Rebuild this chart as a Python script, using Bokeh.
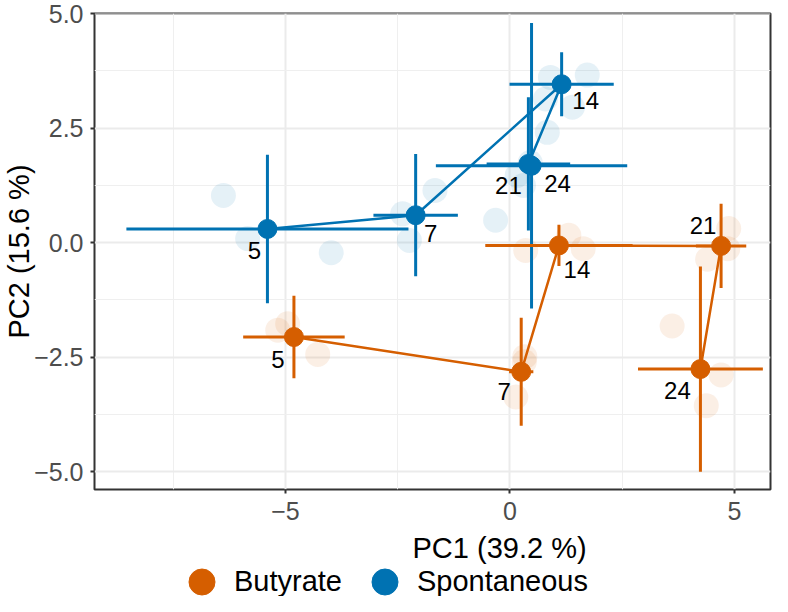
import numpy as np
from bokeh.plotting import figure
from bokeh.layouts import column
from bokeh.models import (ColumnDataSource, FixedTicker, Legend, LegendItem, Range1d, Title)
from bokeh.core.properties import value
from bokeh.embed import file_html
from bokeh.resources import INLINE

# ---------------- data ----------------
days = [5, 7, 14, 21, 24]
day_labels = ["5", "7", "14", "21", "24"]

# group means (PC1, PC2) and spread
but_pc1 = [-4.81, 0.25, 1.09, 4.70, 4.24]
but_pc2 = [-2.06, -2.82, -0.06, -0.07, -2.76]
but_sd1 = [1.13, 0.27, 1.64, 0.56, 1.39]
but_sd2 = [0.90, 1.18, 0.45, 0.92, 2.24]

spo_pc1 = [-5.40, -2.10, 1.15, 0.41, 0.48]
spo_pc2 = [0.30, 0.60, 3.46, 1.72, 1.68]
spo_sd1 = [3.14, 0.94, 1.16, 0.93, 2.13]
spo_sd2 = [1.62, 1.335, 0.70, 1.455, 3.12]

# replicate samples
but_rep_day = [5, 5, 5, 7, 7, 7, 14, 14, 14, 21, 21, 21, 24, 24, 24]
but_rep_pc1 = [-4.95, -5.17, -4.28, 0.33, 0.13, 0.32, 0.35, 1.31, 1.63,
               4.87, 4.40, 4.85, 3.61, 4.70, 4.37]
but_rep_pc2 = [-1.77, -1.91, -2.44, -2.49, -3.37, -2.60, -0.17, 0.16, -0.13,
               0.31, -0.36, -0.13, -1.82, -2.89, -3.56]

spo_rep_day = [5, 5, 5, 7, 7, 7, 14, 14, 14, 21, 21, 21, 24, 24, 24]
spo_rep_pc1 = [-6.38, -5.84, -3.98, -2.39, -1.67, -2.24, 0.90, 1.72, 0.79,
               0.16, 0.30, 0.83, 1.39, -0.32, 0.45]
spo_rep_pc2 = [1.03, 0.09, -0.22, 0.63, 1.14, 0.05, 3.61, 3.66, 3.14,
               1.47, 1.25, 2.41, 2.96, 0.49, 1.75]

x_ticks = [-5, 0, 5]
x_tick_labels = ["\u22125", "0", "5"]
x_minor = [-7.5, -2.5, 2.5]
y_ticks = [-5.0, -2.5, 0.0, 2.5, 5.0]
y_tick_labels = ["\u22125.0", "\u22122.5", "0.0", "2.5", "5.0"]
y_minor = [-3.75, -1.25, 1.25, 3.75]

x_title = "PC1 (39.2 %)"
y_title = "PC2 (15.6 %)"
conditions = ["Butyrate", "Spontaneous"]

# label nudges (screen px) for the day labels
but_lab_dx = [-16, -17, 18, -18, -23]
but_lab_dy = [22, 20, 24, -20, 21]
spo_lab_dx = [-13, 15, 24, -20, 26]
spo_lab_dy = [22, 18, 16, 22, 18]

ORANGE = "#D55E00"
BLUE = "#0072B2"
FONT = "Liberation Sans"

p = figure(width=772, height=529, output_backend="svg", toolbar_location=None,
           x_range=Range1d(-9.25, 5.80), y_range=Range1d(-5.39, 5.005),
           min_border_left=93, min_border_right=2, min_border_top=13,
           min_border_bottom=40, background_fill_color="white",
           border_fill_color="white")

p.outline_line_color = "#333333"
p.outline_line_width = 2

p.xaxis.ticker = FixedTicker(ticks=x_ticks, minor_ticks=x_minor)
p.yaxis.ticker = FixedTicker(ticks=y_ticks, minor_ticks=y_minor)
p.xaxis.major_label_overrides = {float(t): l for t, l in zip(x_ticks, x_tick_labels)}
p.yaxis.major_label_overrides = {float(t): l for t, l in zip(y_ticks, y_tick_labels)}

for ax in (p.xaxis, p.yaxis):
    ax.axis_line_color = None
    ax.major_tick_line_color = "#333333"
    ax.major_tick_line_width = 2
    ax.major_tick_out = 4
    ax.major_tick_in = 0
    ax.minor_tick_line_color = None
    ax.major_label_text_font = FONT
    ax.major_label_text_font_size = "25px"
    ax.major_label_text_color = "#4D4D4D"
    ax.axis_label_text_font = FONT
    ax.axis_label_text_font_size = "29px"
    ax.axis_label_text_font_style = "normal"
    ax.axis_label_text_color = "black"

p.xaxis.major_label_standoff = 8
p.yaxis.major_label_standoff = 7
p.yaxis.axis_label_standoff = -4
p.yaxis.axis_label = y_title

for g in (p.xgrid, p.ygrid):
    g.grid_line_color = "#EBEBEB"
    g.grid_line_width = 2
    g.minor_grid_line_color = "#EFEFEF"
    g.minor_grid_line_width = 1

# replicate points
for rx, ry, col in ((but_rep_pc1, but_rep_pc2, ORANGE), (spo_rep_pc1, spo_rep_pc2, BLUE)):
    p.scatter(rx, ry, size=25, fill_color=col, line_color=None, fill_alpha=0.1)

# error bars
for mx, my, s1, s2, col in ((spo_pc1, spo_pc2, spo_sd1, spo_sd2, BLUE),
                            (but_pc1, but_pc2, but_sd1, but_sd2, ORANGE)):
    mx, my, s1, s2 = map(np.asarray, (mx, my, s1, s2))
    p.segment(x0=mx - s1, y0=my, x1=mx + s1, y1=my, line_color=col, line_width=3)
    p.segment(x0=mx, y0=my - s2, x1=mx, y1=my + s2, line_color=col, line_width=3)

# paths across days
for mx, my, col in ((spo_pc1, spo_pc2, BLUE), (but_pc1, but_pc2, ORANGE)):
    p.line(mx, my, line_color=col, line_width=2.5)

# mean points
p.scatter(but_pc1, but_pc2, size=19, fill_color=ORANGE, line_color=ORANGE)
p.scatter(spo_pc1, spo_pc2, size=19, fill_color=BLUE, line_color=BLUE)

# day labels
for mx, my, dx, dy in ((but_pc1, but_pc2, but_lab_dx, but_lab_dy),
                       (spo_pc1, spo_pc2, spo_lab_dx, spo_lab_dy)):
    src = ColumnDataSource(dict(x=mx, y=my, t=day_labels, dx=dx, dy=dy))
    p.text(x="x", y="y", text="t", x_offset="dx", y_offset="dy", source=src,
           text_align="center", text_baseline="middle",
           text_font=value(FONT), text_font_size="24px", text_color="black")

# ---------------- x title + legend strip below the panel ----------------
leg = figure(width=772, height=67, output_backend="svg", toolbar_location=None,
             x_range=Range1d(0, 1), y_range=Range1d(0, 1),
             x_axis_location=None, y_axis_location=None,
             min_border=0, background_fill_color="white", border_fill_color="white")
leg.grid.visible = False
leg.outline_line_color = None
leg.title = Title(text=x_title, align="left", offset=318, standoff=0,
                  text_font=FONT, text_font_size="29px",
                  text_font_style="normal", text_color="black")

# legend keys: renderers without drawable positions (NaN), only used for the key glyphs
k_but = leg.scatter([np.nan], [np.nan], size=19, fill_color=ORANGE, line_color=ORANGE)
k_spo = leg.scatter([np.nan], [np.nan], size=19, fill_color=BLUE, line_color=BLUE)
legend = Legend(items=[LegendItem(label=conditions[0], renderers=[k_but]),
                       LegendItem(label=conditions[1], renderers=[k_spo])],
                orientation="horizontal", location=(75, -18),
                glyph_width=65, glyph_height=65, label_standoff=0, spacing=10,
                padding=0, margin=0, border_line_color=None,
                background_fill_alpha=0, label_text_font=FONT,
                label_text_font_size="29px", label_text_color="black")
leg.add_layout(legend, "center")

layout = column(p, leg, spacing=0)
open("out.html", "w").write(file_html(layout, INLINE))
